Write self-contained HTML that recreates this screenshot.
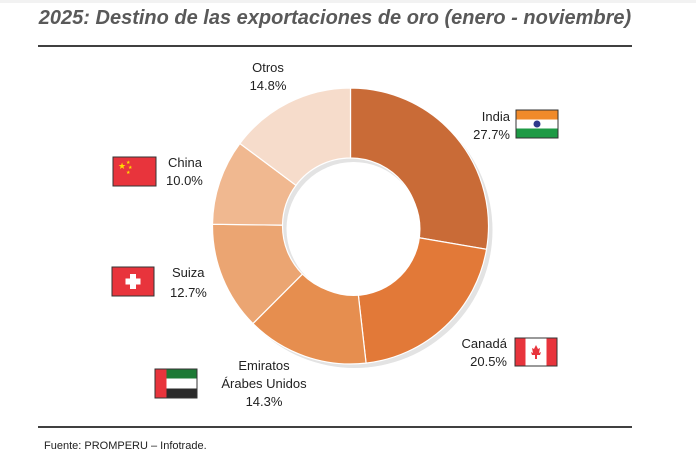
<!DOCTYPE html>
<html><head><meta charset="utf-8"><style>
body{margin:0;background:#fff;width:696px;height:453px;overflow:hidden;font-family:"Liberation Sans",Arial,sans-serif}
</style></head><body>
<svg id="s" width="696" height="453" xmlns="http://www.w3.org/2000/svg" font-family="Liberation Sans, Arial, sans-serif">
<rect width="696" height="453" fill="#fff"/>
<rect x="0" y="0" width="696" height="3" fill="#f2f2f2"/>
<text x="335" y="24" text-anchor="middle" font-size="20" font-style="italic" font-weight="bold" fill="#595959">2025: Destino de las exportaciones de oro (enero - noviembre)</text>
<line x1="38" y1="46" x2="632" y2="46" stroke="#000" stroke-width="1.5"/>
<line x1="38" y1="427" x2="632" y2="427" stroke="#000" stroke-width="1.5"/>
<text x="44" y="449" font-size="11" fill="#222">Fuente: PROMPERU – Infotrade.</text>
<g id="pie"></g>
<g font-size="13" fill="#222">
<text x="268" y="72" text-anchor="middle">Otros</text>
<text x="268" y="90" text-anchor="middle">14.8%</text>
<text x="168" y="167">China</text>
<text x="166" y="185">10.0%</text>
<text x="172" y="277">Suiza</text>
<text x="170" y="297">12.7%</text>
<text x="510" y="121" text-anchor="end">India</text>
<text x="510" y="139" text-anchor="end">27.7%</text>
<text x="507" y="348" text-anchor="end">Canadá</text>
<text x="507" y="366" text-anchor="end">20.5%</text>
<text x="264" y="370" text-anchor="middle">Emiratos</text>
<text x="264" y="388" text-anchor="middle">Árabes Unidos</text>
<text x="264" y="406" text-anchor="middle">14.3%</text>
</g>
<!-- China -->
<rect x="113" y="157" width="43" height="29" fill="#e8343c" stroke="#333" stroke-width="1"/>
<text x="118" y="169" font-size="9" fill="#ffde00">★</text>
<text x="126" y="164" font-size="5" fill="#ffde00">★</text><text x="128" y="169" font-size="5" fill="#ffde00">★</text><text x="126" y="174" font-size="5" fill="#ffde00">★</text>
<!-- Suiza -->
<rect x="112" y="267" width="42" height="29" fill="#e8343c" stroke="#333" stroke-width="1"/>
<rect x="130" y="274" width="6" height="15" fill="#fff"/><rect x="125.5" y="278.5" width="15" height="6" fill="#fff"/>
<!-- India -->
<rect x="516" y="110" width="42" height="28" fill="#fff" stroke="#333" stroke-width="1"/>
<rect x="516.5" y="110.5" width="41" height="9" fill="#f08a2a"/>
<rect x="516.5" y="128.5" width="41" height="9" fill="#1e9a45"/>
<circle cx="537" cy="124" r="3.5" fill="#2e3a8c"/>
<!-- Canada -->
<rect x="515" y="338" width="42" height="28" fill="#fff" stroke="#333" stroke-width="1"/>
<rect x="515.5" y="338.5" width="10" height="27" fill="#e8343c"/>
<rect x="546.5" y="338.5" width="10" height="27" fill="#e8343c"/>
<path d="M536 345 l2 4 2-1 -1 5 2-1 -1 3 -3 0 0 4 -2 0 0-4 -3 0 -1-3 2 1 -1-5 2 1z" fill="#e8343c"/>
<!-- UAE -->
<rect x="155" y="369" width="42" height="29" fill="#fff" stroke="#333" stroke-width="1"/>
<rect x="155.5" y="369.5" width="41" height="9" fill="#1d7a35"/>
<rect x="155.5" y="388.5" width="41" height="9" fill="#2b2b2b"/>
<rect x="155.5" y="369.5" width="11" height="28" fill="#e8343c"/>
</svg>
<script>
(function(){
var cx=350.5,cy=226,R=138,r=68;
var d=[[27.7,"#c96b37"],[20.5,"#e27938"],[14.3,"#e68e4f"],[12.7,"#eba572"],[10.0,"#f0b890"],[14.8,"#f6dccb"]];
var g=document.getElementById("pie"),ns="http://www.w3.org/2000/svg";
function P(a,rr,ox,oy){return [(ox+rr*Math.sin(a)).toFixed(2),(oy-rr*Math.cos(a)).toFixed(2)];}
function ring(ox,oy,R1,r1,a0,a1,fill,stroke){
 var l=(a1-a0)>Math.PI?1:0,p1=P(a0,R1,ox,oy),p2=P(a1,R1,ox,oy),p3=P(a1,r1,ox,oy),p4=P(a0,r1,ox,oy);
 var e=document.createElementNS(ns,"path");
 e.setAttribute("d","M"+p1+"A"+R1+","+R1+" 0 "+l+" 1 "+p2+"L"+p3+"A"+r1+","+r1+" 0 "+l+" 0 "+p4+"Z");
 e.setAttribute("fill",fill);if(stroke){e.setAttribute("stroke",stroke);e.setAttribute("stroke-width","1.2");}
 g.appendChild(e);}
var sh=document.createElementNS(ns,"circle");sh.setAttribute("cx",cx+4);sh.setAttribute("cy",cy+4);sh.setAttribute("r",R);sh.setAttribute("fill","#e3e3e3");g.appendChild(sh);
var a=0;
d.forEach(function(x){var b=a+x[0]/100*2*Math.PI;ring(cx,cy,R,r,a,b,x[1],"#fff");a=b;});
var h=document.createElementNS(ns,"circle");h.setAttribute("cx",cx+3);h.setAttribute("cy",cy+3);h.setAttribute("r",r-1);h.setAttribute("fill","#fff");g.appendChild(h);
})();
</script>
</body></html>
